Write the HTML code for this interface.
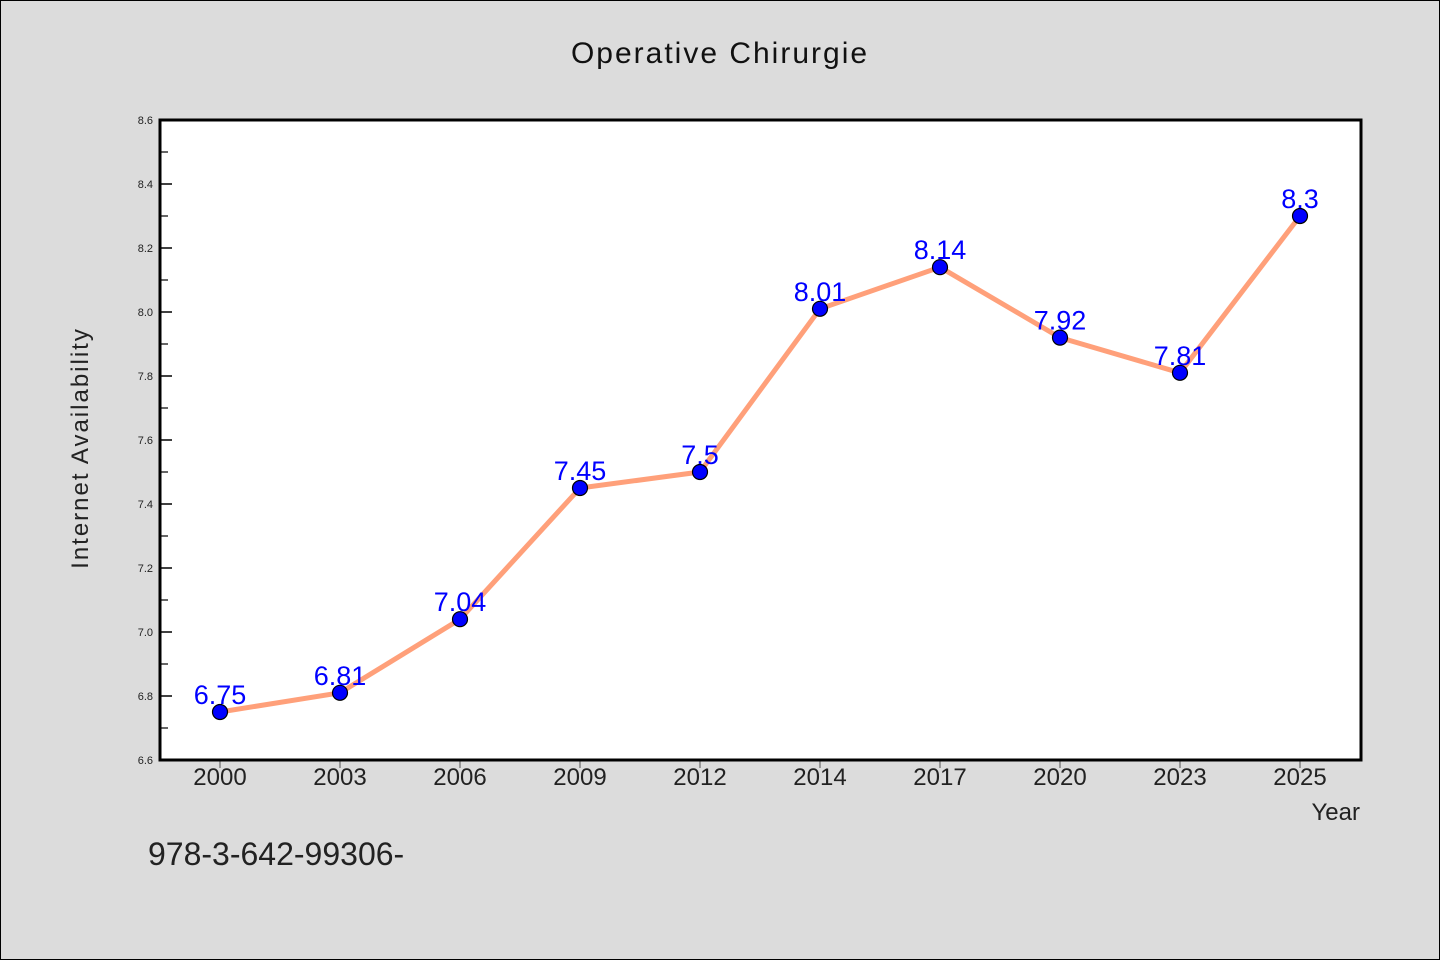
<!DOCTYPE html>
<html><head><meta charset="utf-8"><style>
html,body{margin:0;padding:0;background:#dcdcdc;}
svg{display:block;font-family:"WenQuanYi Zen Hei","Liberation Sans",sans-serif;}
</style></head><body>
<svg id="chart" width="1440" height="960" viewBox="0 0 1440 960">
<rect x="0.5" y="0.5" width="1439" height="959" fill="#dcdcdc" stroke="#000"/>
<text x="720" y="63" font-size="30" text-anchor="middle" fill="#111" letter-spacing="2">Operative Chirurgie</text>
<rect x="160" y="120" width="1201" height="640" fill="#fff"/>
<g id="axes"></g>
<g id="series"></g>
<rect x="160" y="120" width="1201" height="640" fill="none" stroke="#000" stroke-width="3"/>
<text x="88" y="448" font-size="24" text-anchor="middle" fill="#222" letter-spacing="2" transform="rotate(-90 88 448)">Internet Availability</text>
<text x="1360" y="820" font-size="24" text-anchor="end" fill="#222">Year</text>
<text x="148" y="865" font-size="32" fill="#222">978-3-642-99306-</text>
</svg>
<script>
const categories=["2000","2003","2006","2009","2012","2014","2017","2020","2023","2025"];
const values=[6.75,6.81,7.04,7.45,7.5,8.01,8.14,7.92,7.81,8.3];
const yTicks=[6.6,6.8,7.0,7.2,7.4,7.6,7.8,8.0,8.2,8.4,8.6];
const NS="http://www.w3.org/2000/svg";
const L=160,T=120,R=1361,B=760,yMin=6.6,yMax=8.6;
const xs=i=>L+60+i*((R-L-60-61)/(categories.length-1));
const ys=v=>B-(v-yMin)/(yMax-yMin)*(B-T);
function mk(tag,attrs,parent){const e=document.createElementNS(NS,tag);for(const k in attrs)e.setAttribute(k,attrs[k]);parent.appendChild(e);return e;}
const ax=document.getElementById('axes'),se=document.getElementById('series');
yTicks.forEach((t,i)=>{
  const y=ys(t);
  const ln=mk('line',{x1:L,x2:L+12,y1:y,y2:y,stroke:'#000','stroke-width':1.5},ax);
  
  
  const tx=mk('text',{x:L-7,y:y+4,'font-size':11,'text-anchor':'end',fill:'#222'},ax);
  tx.textContent=t.toFixed(1);
  
  
  if(i<yTicks.length-1){
    const ym=ys(t+0.1);
    const mn=mk('line',{x1:L,x2:L+8,y1:ym,y2:ym,stroke:'#000','stroke-width':1.2},ax);
    
    
  }
});
categories.forEach((c,i)=>{
  const x=xs(i);
  const ln=mk('line',{x1:x,x2:x,y1:B,y2:B+8,stroke:'#555','stroke-width':1},ax);
  
  
  const tx=mk('text',{x:x,y:B+25,'font-size':24,'text-anchor':'middle',fill:'#222'},ax);
  tx.textContent=c;
  
  
});
const pts=values.map((v,i)=>xs(i)+','+ys(v)).join(' ');
const pl=mk('polyline',{points:pts,fill:'none',stroke:'#ffa07a','stroke-width':5,'stroke-linejoin':'round'},se);


values.forEach((v,i)=>{
  const c=mk('circle',{cx:xs(i),cy:ys(v),r:7.5,fill:'#0000ff',stroke:'#000','stroke-width':1.2},se);
  
  
});
values.forEach((v,i)=>{
  const t=mk('text',{x:xs(i),y:ys(v)-8,'font-size':27,'text-anchor':'middle',fill:'#0000ff'},se);
  t.textContent=String(v);
  
  
});
</script>
</body></html>
